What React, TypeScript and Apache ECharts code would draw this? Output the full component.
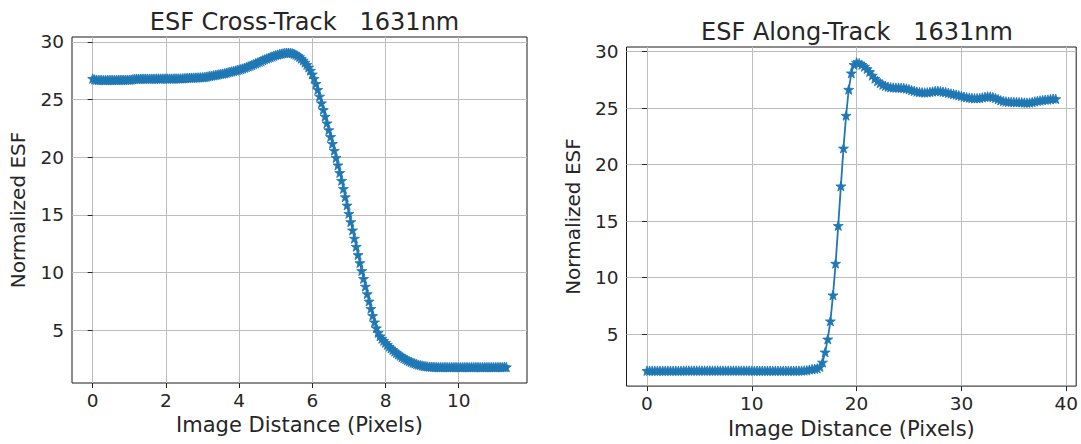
import React, { useEffect, useRef } from "react";
import * as echarts from "echarts";

// ---------- data ----------
const CROSS_STEP = 0.05; // sample spacing (pixels) of the cross-track ESF
const crossValues = [
  26.82, 26.75, 26.72, 26.70, 26.70, 26.70, 26.69, 26.69, 26.70, 26.70,
  26.70, 26.70, 26.70, 26.70, 26.71, 26.71, 26.71, 26.71, 26.72, 26.72,
  26.72, 26.73, 26.76, 26.79, 26.80, 26.80, 26.80, 26.81, 26.81, 26.81,
  26.81, 26.81, 26.81, 26.81, 26.81, 26.82, 26.82, 26.82, 26.82, 26.82,
  26.82, 26.82, 26.82, 26.82, 26.82, 26.83, 26.83, 26.83, 26.83, 26.84,
  26.85, 26.87, 26.88, 26.89, 26.90, 26.90, 26.91, 26.91, 26.92, 26.93,
  26.94, 26.95, 26.98, 27.01, 27.04, 27.07, 27.10, 27.13, 27.16, 27.19,
  27.22, 27.25, 27.28, 27.32, 27.36, 27.40, 27.44, 27.48, 27.52, 27.56,
  27.60, 27.65, 27.70, 27.76, 27.82, 27.88, 27.94, 28.00, 28.07, 28.14,
  28.21, 28.28, 28.35, 28.42, 28.49, 28.56, 28.62, 28.68, 28.74, 28.80,
  28.85, 28.90, 28.94, 28.98, 29.01, 29.04, 29.06, 29.06, 29.05, 29.02,
  28.97, 28.90, 28.81, 28.70, 28.56, 28.40, 28.22, 28.02, 27.80, 27.52,
  27.20, 26.82, 26.38, 25.86, 25.28, 24.70, 24.12, 23.54, 22.96, 22.37,
  21.78, 21.18, 20.58, 19.96, 19.32, 18.66, 17.98, 17.28, 16.56, 15.84,
  15.12, 14.40, 13.68, 12.97, 12.26, 11.55, 10.85, 10.16, 9.48, 8.81,
  8.16, 7.52, 6.88, 6.27, 5.71, 5.20, 4.80, 4.50, 4.28, 4.10,
  3.93, 3.76, 3.60, 3.45, 3.31, 3.17, 3.04, 2.92, 2.81, 2.70,
  2.60, 2.51, 2.42, 2.34, 2.27, 2.20, 2.14, 2.08, 2.03, 1.99,
  1.95, 1.92, 1.89, 1.87, 1.85, 1.84, 1.83, 1.82, 1.82, 1.81,
  1.81, 1.81, 1.81, 1.81, 1.81, 1.81, 1.81, 1.81, 1.81, 1.81,
  1.81, 1.80, 1.81, 1.81, 1.81, 1.80, 1.81, 1.81, 1.81, 1.81,
  1.81, 1.81, 1.80, 1.81, 1.81, 1.81, 1.81, 1.80, 1.81, 1.81,
  1.81, 1.81, 1.81, 1.81, 1.82, 1.82, 1.82,
];

const ALONG_STEP = 0.25; // sample spacing (pixels) of the along-track ESF
const alongValues = [
  1.76, 1.76, 1.76, 1.76, 1.76, 1.76, 1.76, 1.76, 1.76, 1.76,
  1.76, 1.76, 1.76, 1.76, 1.77, 1.77, 1.77, 1.77, 1.77, 1.77,
  1.77, 1.77, 1.77, 1.77, 1.77, 1.77, 1.77, 1.77, 1.77, 1.77,
  1.77, 1.77, 1.77, 1.77, 1.77, 1.77, 1.77, 1.77, 1.77, 1.77,
  1.76, 1.76, 1.76, 1.76, 1.76, 1.76, 1.76, 1.76, 1.76, 1.76,
  1.76, 1.76, 1.76, 1.76, 1.76, 1.76, 1.76, 1.76, 1.76, 1.77,
  1.78, 1.80, 1.86, 1.90, 1.93, 1.97, 2.10, 2.50, 3.40, 4.55,
  6.15, 8.45, 11.25, 14.60, 18.10, 21.45, 24.35, 26.65, 28.10, 28.85,
  29.05, 28.98, 28.85, 28.68, 28.48, 28.22, 27.90, 27.62, 27.40, 27.22,
  27.08, 26.98, 26.90, 26.85, 26.83, 26.82, 26.82, 26.80, 26.78, 26.74,
  26.68, 26.60, 26.53, 26.47, 26.42, 26.40, 26.39, 26.40, 26.43, 26.48,
  26.52, 26.53, 26.50, 26.46, 26.42, 26.36, 26.30, 26.25, 26.20, 26.14,
  26.08, 26.02, 25.97, 25.93, 25.90, 25.88, 25.88, 25.90, 25.95, 26.00,
  26.04, 26.03, 25.98, 25.90, 25.80, 25.70, 25.63, 25.59, 25.57, 25.56,
  25.55, 25.54, 25.53, 25.52, 25.50, 25.49, 25.50, 25.54, 25.60, 25.65,
  25.68, 25.72, 25.75, 25.76, 25.80, 25.84, 25.82,
];

const crossXTicks = [0, 2, 4, 6, 8, 10];
const alongXTicks = [0, 10, 20, 30, 40];
const yTicks = [5, 10, 15, 20, 25, 30];
const titles = ["ESF Cross-Track   1631nm", "ESF Along-Track   1631nm"];
const xName = "Image Distance (Pixels)";
const yName = "Normalized ESF";

// ---------- styling ----------
const FONT = "DejaVu Sans";
const BLUE = "#1f77b4";
const TEXT = "#262626";
// fat five-pointed star (matplotlib-like '*' marker, slightly blurred look)
const STAR =
  "path://M50 0L61.8 33.8L97.55 34.55L69.0 56.2L79.39 90.45L50 70L20.61 90.45L31.0 56.2L2.45 34.55L38.2 33.8Z";

function toPoints(values: number[], step: number) {
  return values.map((v, i) => [Number((i * step).toFixed(4)), v]);
}

// matplotlib-like 5% auto margins
function padRange(lo: number, hi: number) {
  const m = (hi - lo) * 0.05;
  return [lo - m, hi + m];
}

export default function App() {
  const ref = useRef<HTMLDivElement>(null);

  useEffect(() => {
    if (!ref.current) return;
    const chart = echarts.init(ref.current, undefined, { renderer: "svg" });

    const crossPts = toPoints(crossValues, CROSS_STEP);
    const alongPts = toPoints(alongValues, ALONG_STEP);
    const cx = padRange(0, crossPts[crossPts.length - 1][0]);
    const ax = padRange(0, alongPts[alongPts.length - 1][0]);
    const cy = padRange(Math.min(...crossValues), Math.max(...crossValues));
    const ay = padRange(Math.min(...alongValues), Math.max(...alongValues));

    const grids = [
      { left: 72, top: 37, width: 455, height: 346 },
      { left: 626.5, top: 47, width: 451, height: 346 },
    ];

    const xAxisBase = (i: number, range: number[], ticks: number[], split: number) => ({
      type: "value",
      gridIndex: i,
      min: range[0],
      max: range[1],
      splitNumber: split,
      name: xName,
      nameLocation: "middle",
      nameGap: 31,
      nameTextStyle: { fontFamily: FONT, fontSize: 21, color: TEXT },
      axisLine: { show: false },
      axisTick: { show: true, length: 5, customValues: ticks, lineStyle: { color: TEXT, width: 1 } },
      axisLabel: { customValues: ticks, margin: 8, fontFamily: FONT, fontSize: 18.5, color: TEXT },
      splitLine: { show: true, lineStyle: { color: "#bdbdbd", width: 1 } },
    });

    const yAxisBase = (i: number, range: number[]) => ({
      type: "value",
      gridIndex: i,
      min: range[0],
      max: range[1],
      splitNumber: 6,
      name: yName,
      nameLocation: "middle",
      nameGap: 44,
      nameTextStyle: { fontFamily: FONT, fontSize: 20, color: TEXT },
      axisLine: { show: false },
      axisTick: { show: true, length: 5, customValues: yTicks, lineStyle: { color: TEXT, width: 1 } },
      axisLabel: { customValues: yTicks, margin: 8, fontFamily: FONT, fontSize: 18.5, color: TEXT },
      splitLine: { show: true, lineStyle: { color: "#bdbdbd", width: 1 } },
    });

    const seriesBase = (i: number, data: number[][]) => ({
      type: "line",
      xAxisIndex: i,
      yAxisIndex: i,
      data,
      symbol: STAR,
      symbolSize: 10,
      symbolKeepAspect: true,
      showSymbol: true,
      showAllSymbol: true,
      silent: true,
      lineStyle: { color: BLUE, width: 1.8 },
      itemStyle: { color: BLUE, borderColor: BLUE, borderWidth: 0.8 },
      emphasis: { disabled: true },
      z: 3,
    });

    chart.setOption({
      animation: false,
      backgroundColor: "#ffffff",
      title: [
        {
          text: titles[0],
          left: 72 + 455 / 2,
          textAlign: "center",
          top: 5,
          textStyle: { fontFamily: FONT, fontSize: 24, fontWeight: "normal", color: TEXT },
        },
        {
          text: titles[1],
          left: 626.5 + 451 / 2,
          textAlign: "center",
          top: 15,
          textStyle: { fontFamily: FONT, fontSize: 24, fontWeight: "normal", color: TEXT },
        },
      ],
      grid: grids.map((g) => ({
        ...g,
        show: true,
        borderColor: "#1a1a1a",
        borderWidth: 1,
        backgroundColor: "transparent",
        containLabel: false,
      })),
      xAxis: [xAxisBase(0, cx, crossXTicks, 6), xAxisBase(1, ax, alongXTicks, 5)],
      yAxis: [yAxisBase(0, cy), yAxisBase(1, ay)],
      series: [seriesBase(0, crossPts), seriesBase(1, alongPts)],
    });

    return () => chart.dispose();
  }, []);

  return (
    <div
      ref={ref}
      style={{ position: "absolute", left: 0, top: 0, width: 1081, height: 444, background: "#fff" }}
    />
  );
}
